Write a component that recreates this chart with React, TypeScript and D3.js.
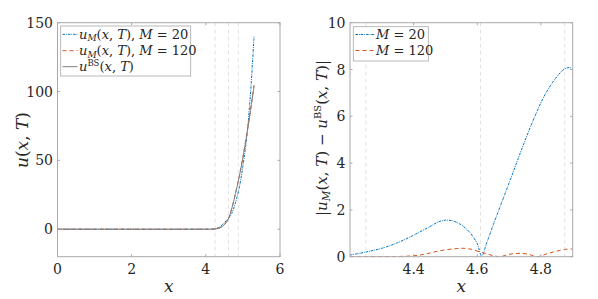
import * as d3 from "d3";

// left panel: u(x,T) curves
const xLeft = [0, 4.0, 4.2, 4.3, 4.4, 4.5, 4.6, 4.7, 4.8, 4.9, 5.0, 5.1, 5.2, 5.3];
const uBS = [0, 0, 0.05, 0.3, 1.2, 3.2, 7, 15, 26, 38, 52, 68, 85, 104];
const u20 = [0, 0, 0.12, 0.7, 2.1, 4.8, 7.4, 11.5, 19.4, 30, 46, 66, 97, 140];
const u120 = [0, 0, 0.05, 0.3, 1.25, 3.5, 7.2, 15.1, 26, 38.3, 52.4, 68.5, 85.6, 104.8];

// right panel: absolute errors
const xErr20 = [4.2, 4.25, 4.3, 4.35, 4.4, 4.45, 4.48, 4.5, 4.52, 4.55, 4.58, 4.6, 4.614, 4.63, 4.65, 4.7, 4.74, 4.775, 4.81, 4.845, 4.875, 4.89, 4.9];
const err20 = [0.07, 0.2, 0.36, 0.6, 0.92, 1.28, 1.5, 1.56, 1.54, 1.36, 0.98, 0.55, 0.03, 0.6, 1.35, 3.15, 4.6, 5.8, 6.85, 7.6, 8.03, 8.08, 8.03];
const xErr120 = [4.2, 4.3, 4.35, 4.4, 4.44, 4.48, 4.53, 4.555, 4.58, 4.61, 4.635, 4.655, 4.672, 4.7, 4.725, 4.75, 4.77, 4.788, 4.82, 4.845, 4.875, 4.9];
const err120 = [0, 0.005, 0.01, 0.04, 0.12, 0.25, 0.34, 0.36, 0.32, 0.2, 0.1, 0.03, 0, 0.1, 0.14, 0.13, 0.07, 0, 0.13, 0.22, 0.31, 0.33];

const markerLines = [4.25, 4.61, 4.875];
const leftXTicks = [0, 2, 4, 6];
const leftYTicks = [0, 50, 100, 150];
const rightXTicks = [4.4, 4.6, 4.8];
const rightYTicks = [0, 2, 4, 6, 8, 10];

const BLUE = "#0072BD";
const ORANGE = "#D95319";
const GRAY = "#808080";
const AXIS = "#a8a8a8";
const TXT = "#262626";
const FONT = "DejaVu Serif";

const top = 22.7;
const bottom = 256.7;

type Series = { xs: number[]; ys: number[]; color: string; dash?: string };

function Panel(props: {
  x0: number;
  x1: number;
  xDomain: [number, number];
  yDomain: [number, number];
  xTicks: number[];
  yTicks: number[];
  series: Series[];
  fmtX: (v: number) => string;
}) {
  const { x0, x1, xDomain, yDomain, xTicks, yTicks, series, fmtX } = props;
  const x = d3.scaleLinear().domain(xDomain).range([x0, x1]);
  const y = d3.scaleLinear().domain(yDomain).range([bottom, top]);
  const clipId = `clip-${Math.round(x0)}`;
  const tl = 2.5;
  return (
    <g>
      <defs>
        <clipPath id={clipId}>
          <rect x={x0} y={top} width={x1 - x0} height={bottom - top} />
        </clipPath>
      </defs>
      <rect x={x0} y={top} width={x1 - x0} height={bottom - top} fill="white" />
      {markerLines
        .filter((v) => v >= xDomain[0] && v <= xDomain[1])
        .map((v) => (
          <line
            key={v}
            x1={x(v)}
            x2={x(v)}
            y1={top}
            y2={bottom}
            stroke="#e2e2e2"
            strokeWidth={1}
            strokeDasharray="4,3"
          />
        ))}
      <g clipPath={`url(#${clipId})`}>
        {series.map((s, i) => {
          const line = d3
            .line<number>()
            .x((_, j) => x(s.xs[j]))
            .y((d) => y(d))
            .curve(d3.curveCatmullRom.alpha(0.5));
          return (
            <path
              key={i}
              d={line(s.ys) ?? ""}
              fill="none"
              stroke={s.color}
              strokeWidth={1}
              strokeDasharray={s.dash}
            />
          );
        })}
      </g>
      <rect
        x={x0}
        y={top}
        width={x1 - x0}
        height={bottom - top}
        fill="none"
        stroke={AXIS}
        strokeWidth={1}
      />
      {xTicks.map((t) => (
        <g key={"x" + t}>
          <line x1={x(t)} x2={x(t)} y1={bottom} y2={bottom - tl} stroke={AXIS} />
          <line x1={x(t)} x2={x(t)} y1={top} y2={top + tl} stroke={AXIS} />
          <text
            x={x(t)}
            y={274}
            textAnchor="middle"
            fontSize={14}
            fill={TXT}
            fontFamily={FONT}
          >
            {fmtX(t)}
          </text>
        </g>
      ))}
      {yTicks.map((t) => (
        <g key={"y" + t}>
          <line x1={x0} x2={x0 + tl} y1={y(t)} y2={y(t)} stroke={AXIS} />
          <line x1={x1} x2={x1 - tl} y1={y(t)} y2={y(t)} stroke={AXIS} />
          <text
            x={x0 - 4.5}
            y={y(t) + 5}
            textAnchor="end"
            fontSize={14}
            fill={TXT}
            fontFamily={FONT}
          >
            {t}
          </text>
        </g>
      ))}
      <text
        x={(x0 + x1) / 2}
        y={292}
        textAnchor="middle"
        fontSize={17}
        fontStyle="italic"
        fill={TXT}
        fontFamily={FONT}
      >
        x
      </text>
    </g>
  );
}

function LegendRow(props: { x: number; y: number; len: number; color: string; dash?: string; children: any }) {
  const { x, y, len, color, dash, children } = props;
  return (
    <g>
      <line x1={x} x2={x + len} y1={y} y2={y} stroke={color} strokeWidth={1} strokeDasharray={dash} />
      <text x={x + len + 1.5} y={y + 4.5} fontSize={13} fill={TXT} fontFamily={FONT}>
        {children}
      </text>
    </g>
  );
}

export default function App() {
  const dashDot = "2.5,1,0.8,1";
  const dashed = "4,3";
  return (
    <svg
      width={598}
      height={299}
      style={{ position: "absolute", left: 0, top: 0, background: "white" }}
    >
      <rect width={598} height={299} fill="white" />
      <Panel
        x0={57.5}
        x1={280}
        xDomain={[0, 6]}
        yDomain={[-20, 150]}
        xTicks={leftXTicks}
        yTicks={leftYTicks}
        fmtX={(v) => String(v)}
        series={[
          { xs: xLeft, ys: u20, color: BLUE, dash: dashDot },
          { xs: xLeft, ys: u120, color: ORANGE, dash: dashed },
          { xs: xLeft, ys: uBS, color: GRAY },
        ]}
      />
      <Panel
        x0={350}
        x1={572.7}
        xDomain={[4.2, 4.9]}
        yDomain={[0, 10]}
        xTicks={rightXTicks}
        yTicks={rightYTicks}
        fmtX={(v) => v.toFixed(1)}
        series={[
          { xs: xErr20, ys: err20, color: BLUE, dash: dashDot },
          { xs: xErr120, ys: err120, color: ORANGE, dash: dashed },
        ]}
      />
      {/* left y label */}
      <text
        transform="translate(28,140) rotate(-90)"
        textAnchor="middle"
        fontSize={17}
        fill={TXT}
        fontFamily={FONT}
      >
        <tspan fontStyle="italic">u</tspan>(<tspan fontStyle="italic">x</tspan>,{" "}
        <tspan fontStyle="italic">T</tspan>)
      </text>
      {/* right y label */}
      <text
        transform="translate(327,138) rotate(-90)"
        textAnchor="middle"
        fontSize={15}
        fill={TXT}
        fontFamily={FONT}
      >
        |<tspan fontStyle="italic">u</tspan>
        <tspan fontStyle="italic" fontSize={10.5} dy={3}>M</tspan>
        <tspan dy={-3}>(</tspan>
        <tspan fontStyle="italic">x</tspan>, <tspan fontStyle="italic">T</tspan>) − <tspan fontStyle="italic">u</tspan>
        <tspan fontSize={10} dy={-6}>BS</tspan>
        <tspan dy={6}>(</tspan>
        <tspan fontStyle="italic">x</tspan>, <tspan fontStyle="italic">T</tspan>)|
      </text>
      {/* left legend */}
      <rect x={60.7} y={26} width={130} height={50} fill="white" stroke={AXIS} strokeWidth={0.8} />
      <LegendRow x={62.5} y={34.3} len={15} color={BLUE} dash={dashDot}>
        <tspan fontStyle="italic">u</tspan>
        <tspan fontStyle="italic" fontSize={9} dy={2.5}>M</tspan>
        <tspan dy={-2.5}>(</tspan>
        <tspan fontStyle="italic">x</tspan>, <tspan fontStyle="italic">T</tspan>),{" "}
        <tspan fontStyle="italic">M</tspan> = 20
      </LegendRow>
      <LegendRow x={62.5} y={50.7} len={15} color={ORANGE} dash={dashed}>
        <tspan fontStyle="italic">u</tspan>
        <tspan fontStyle="italic" fontSize={9} dy={2.5}>M</tspan>
        <tspan dy={-2.5}>(</tspan>
        <tspan fontStyle="italic">x</tspan>, <tspan fontStyle="italic">T</tspan>),{" "}
        <tspan fontStyle="italic">M</tspan> = 120
      </LegendRow>
      <LegendRow x={62.5} y={66.7} len={15} color={GRAY}>
        <tspan fontStyle="italic">u</tspan>
        <tspan fontSize={8.5} dy={-5}>BS</tspan>
        <tspan dy={5}>(</tspan>
        <tspan fontStyle="italic">x</tspan>, <tspan fontStyle="italic">T</tspan>)
      </LegendRow>
      {/* right legend */}
      <rect x={353.3} y={26.7} width={75} height={34.3} fill="white" stroke={AXIS} strokeWidth={0.8} />
      <LegendRow x={355.5} y={34.5} len={19} color={BLUE} dash={dashDot}>
        <tspan fontStyle="italic">M</tspan> = 20
      </LegendRow>
      <LegendRow x={355.5} y={50.5} len={19} color={ORANGE} dash={dashed}>
        <tspan fontStyle="italic">M</tspan> = 120
      </LegendRow>
    </svg>
  );
}
